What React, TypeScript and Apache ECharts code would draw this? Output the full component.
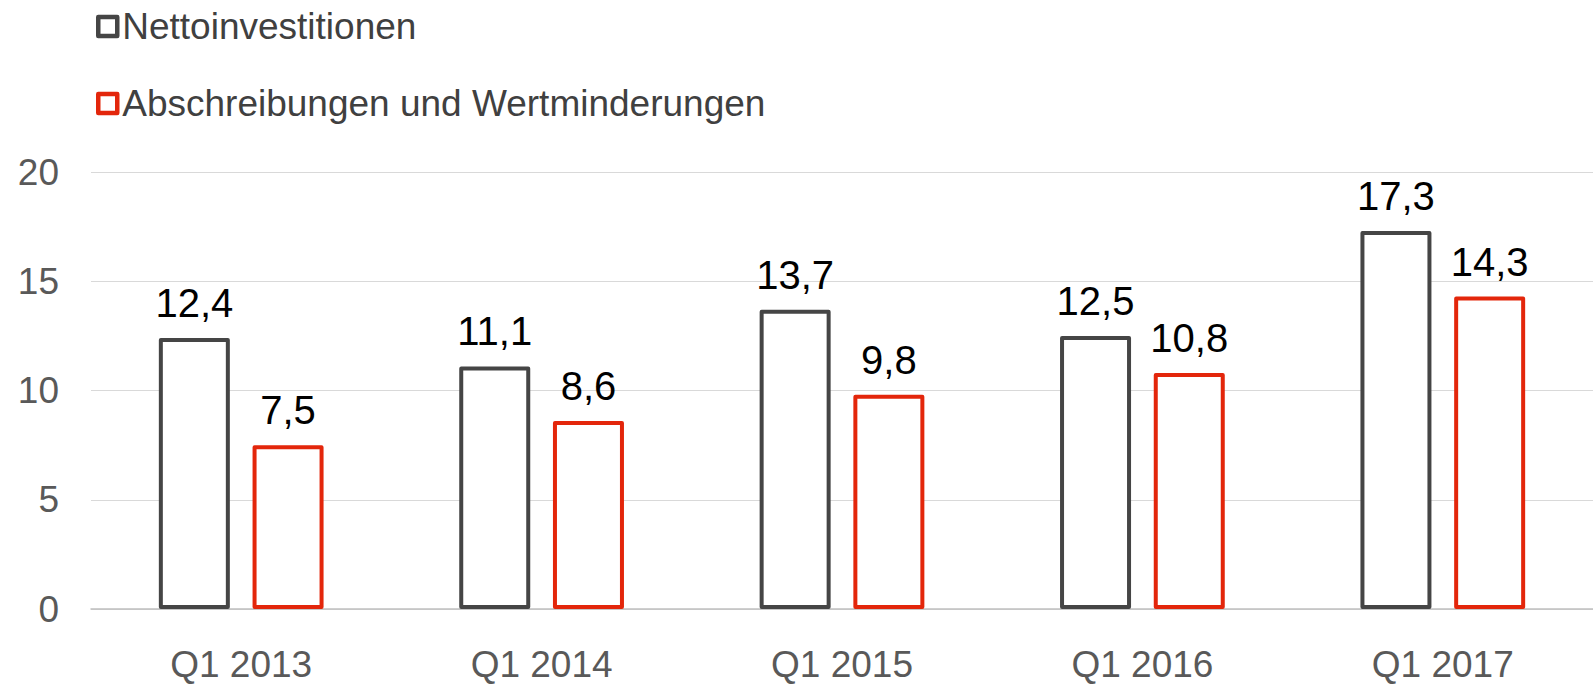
import React, { useEffect, useRef } from "react";
import * as echarts from "echarts";

const categories = ["Q1 2013", "Q1 2014", "Q1 2015", "Q1 2016", "Q1 2017"];
const nettoinvestitionen = [12.4, 11.1, 13.7, 12.5, 17.3];
const abschreibungen = [7.5, 8.6, 9.8, 10.8, 14.3];
const seriesNames = ["Nettoinvestitionen", "Abschreibungen und Wertminderungen"];
const yTicks = { min: 0, max: 20, interval: 5 };

const DARK = "#454545";
const RED = "#e3260b";
const FONT = "Liberation Sans, Arial, sans-serif";

export default function App() {
  const ref = useRef<HTMLDivElement>(null);
  useEffect(() => {
    if (!ref.current) return;
    const chart = echarts.init(ref.current, undefined, { renderer: "svg" });
    const fmt = (p: any) => String(p.value).replace(".", ",");
    const barSeries = (name: string, data: number[], color: string) => ({
      name,
      type: "bar",
      data,
      barWidth: 71,
      barGap: "32%",
      itemStyle: { color: "#ffffff", borderColor: color, borderWidth: 4, borderJoin: "round" },
      label: {
        show: true,
        position: "top",
        distance: 15,
        formatter: fmt,
        color: "#000000",
        fontSize: 40,
        fontFamily: FONT,
      },
    });
    chart.setOption({
      animation: false,
      backgroundColor: "#ffffff",
      textStyle: { fontFamily: FONT },
      legend: {
        orient: "vertical",
        left: 91,
        top: 3,
        itemWidth: 19,
        itemHeight: 19,
        itemGap: 40,
        icon: "rect",
        textStyle: { fontSize: 37, color: "#404040", fontFamily: FONT, padding: [0, 0, 0, 0] },
        data: [
          { name: seriesNames[0], itemStyle: { color: "#ffffff", borderColor: DARK, borderWidth: 4.5, borderJoin: "round" } },
          { name: seriesNames[1], itemStyle: { color: "#ffffff", borderColor: RED, borderWidth: 4.5, borderJoin: "round" } },
        ],
      },
      grid: { left: 91, right: -9, top: 172, bottom: 75, containLabel: false },
      xAxis: {
        type: "category",
        data: categories,
        axisTick: { show: false },
        axisLine: { show: true, lineStyle: { color: "#bfbfbf", width: 1.5 } },
        axisLabel: { fontSize: 37, color: "#595959", margin: 37, fontFamily: FONT },
      },
      yAxis: {
        type: "value",
        min: yTicks.min,
        max: yTicks.max,
        interval: yTicks.interval,
        axisLine: { show: false },
        axisTick: { show: false },
        splitLine: { lineStyle: { color: "#d9d9d9", width: 1 } },
        axisLabel: { fontSize: 37, color: "#595959", margin: 32, fontFamily: FONT },
      },
      series: [
        barSeries(seriesNames[0], nettoinvestitionen, DARK),
        barSeries(seriesNames[1], abschreibungen, RED),
      ],
    });
    return () => chart.dispose();
  }, []);
  return (
    <div
      ref={ref}
      style={{ position: "fixed", left: 0, top: 0, width: 1593, height: 684, background: "#fff" }}
    />
  );
}
